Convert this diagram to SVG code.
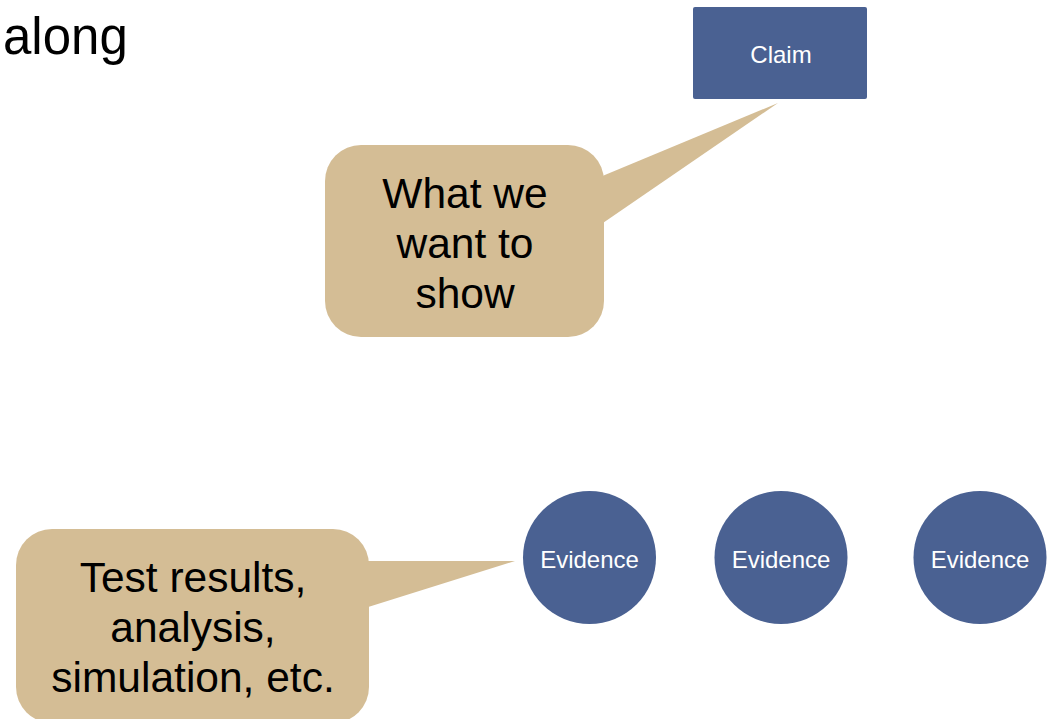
<svg xmlns="http://www.w3.org/2000/svg" width="1055" height="719" viewBox="0 0 1055 719">
<style>
.node{fill:#4a6192;}
.callout{fill:#d4bd95;}
.ntext{font-family:"Liberation Sans",Arial,sans-serif;font-size:24px;fill:#ffffff;text-anchor:middle;}
.ctext{font-family:"Liberation Sans",Arial,sans-serif;font-size:42.5px;fill:#000000;text-anchor:middle;}
.title{font-family:"Liberation Sans",Arial,sans-serif;font-size:51px;fill:#000000;}
</style>
<rect width="1055" height="719" fill="#ffffff"/>
<text class="title" x="3" y="54">along</text>
<g id="claim">
<rect class="node" x="693" y="7" width="174" height="92" rx="2"/>
<text class="ntext" x="781" y="63">Claim</text>
</g>
<g id="evidence1">
<circle class="node" cx="589.5" cy="557.5" r="66.5"/>
<text class="ntext" x="589.5" y="568">Evidence</text>
</g>
<g id="evidence2">
<circle class="node" cx="781" cy="557.5" r="66.5"/>
<text class="ntext" x="781" y="568">Evidence</text>
</g>
<g id="evidence3">
<circle class="node" cx="980" cy="557.5" r="66.5"/>
<text class="ntext" x="980" y="568">Evidence</text>
</g>
<g id="connectors">
<polygon class="callout" points="600,177 778,103 600,225"/>
<polygon class="callout" points="365,561 515,561 365,608"/>
</g>
<g id="callout-claim">
<rect class="callout" x="325" y="145" width="279" height="192" rx="36"/>
<text class="ctext" x="465" y="208">What we</text>
<text class="ctext" x="465" y="258">want to</text>
<text class="ctext" x="465" y="308">show</text>
</g>
<g id="callout-evidence">
<rect class="callout" x="16" y="529" width="353" height="194" rx="36"/>
<text class="ctext" x="193" y="592">Test results,</text>
<text class="ctext" x="193" y="642">analysis,</text>
<text class="ctext" x="193" y="692">simulation, etc.</text>
</g>
</svg>
